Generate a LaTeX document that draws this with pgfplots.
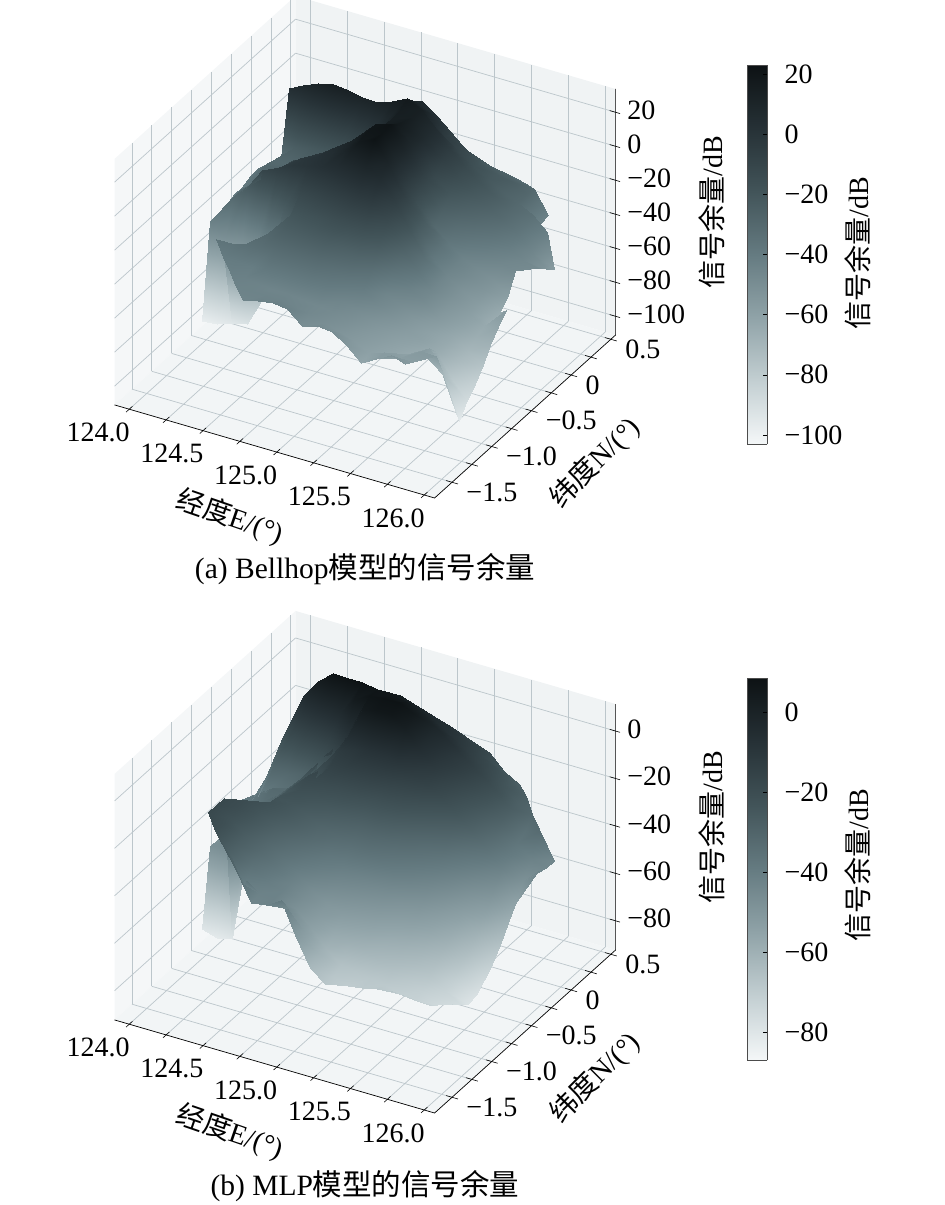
\documentclass[border=0pt]{standalone}
\usepackage{fontspec}
\setmainfont{Liberation Serif}
\newfontfamily\cjk{Noto Sans CJK SC}
\usepackage{pgfplots}
\pgfplotsset{compat=1.18}
\definecolor{wallL}{HTML}{F5F7F8}
\definecolor{wallB}{HTML}{F0F3F4}
\definecolor{wallF}{HTML}{F2F5F6}
\definecolor{gridc}{HTML}{BCC6CB}
\pgfplotsset{
  colormap={bonegrey}{rgb255(0cm)=(244,247,248); rgb255(1cm)=(195,207,210); rgb255(2cm)=(144,163,168);
    rgb255(3cm)=(101,123,129); rgb255(4cm)=(66,84,89); rgb255(5cm)=(38,49,54); rgb255(6cm)=(13,18,20)},
  box3d/.style={
    set layers, clip=false, grid=major, major grid style={gridc,line width=0.7pt},
    x={(147.5pt,-42.9pt)}, y={(79.4pt,71.5pt)},
    xmin=123.9, xmax=126.07, ymin=-1.72, ymax=0.56,
    xtick={124,124.25,...,126}, xticklabels={124.0,,124.5,,125.0,,125.5,,126.0},
    ytick={-1.5,-1.25,...,0.5}, yticklabels={−1.5,,−1.0,,−0.5,,0,,0.5},
    tick style={draw=none}, major tick length=6pt, tick align=center,
    axis line style={draw=none},
    xticklabel style={anchor=center,xshift=-29pt,yshift=-21pt},
    yticklabel style={anchor=west,xshift=8pt,yshift=-9pt},
    zticklabel style={anchor=west,xshift=6pt},
    ticklabel style={font=\fontsize{28}{30}\selectfont},
    zticklabel pos=right, ztick pos=right,
    xtick pos=left, ytick pos=left,
  },
  cbar/.style={
    scale only axis, width=20pt, xmin=0, xmax=1, xtick=\empty, view={0}{90},
    axis line style={black!70!white,line width=0.7pt},
    yticklabel pos=right, ytick pos=right, tick style={black,line width=0.6pt}, major tick length=4pt,
    yticklabel style={anchor=west,xshift=14pt,font=\fontsize{28}{30}\selectfont},
  },
  surfstyle/.style={surf, shader=interp, z buffer=sort, unbounded coords=jump, mesh/cols=20, forget plot},
  tickline/.style={on layer=axis lines,black,line width=0.6pt,unbounded coords=jump,forget plot},
}
\newcommand{\panes}[2]{%
  \addplot3[on layer=axis background,draw=none,fill=wallL,forget plot] coordinates {(123.9,-1.72,#1)(123.9,0.56,#1)(123.9,0.56,#2)(123.9,-1.72,#2)};
  \addplot3[on layer=axis background,draw=none,fill=wallB,forget plot] coordinates {(123.9,0.56,#1)(126.07,0.56,#1)(126.07,0.56,#2)(123.9,0.56,#2)};
  \addplot3[on layer=axis background,draw=none,fill=wallF,forget plot] coordinates {(123.9,-1.72,#1)(126.07,-1.72,#1)(126.07,0.56,#1)(123.9,0.56,#1)};
  \addplot3[on layer=axis lines,black,line width=0.7pt,forget plot] coordinates {(123.9,-1.72,#1)(126.07,-1.72,#1)(126.07,0.56,#1)(126.07,0.56,#2)};
  \addplot3[tickline] coordinates {(124,-1.76,#1)(124,-1.68,#1)(124,-1.7,nan)(124.25,-1.76,#1)(124.25,-1.68,#1)(124,-1.7,nan)(124.5,-1.76,#1)(124.5,-1.68,#1)(124,-1.7,nan)(124.75,-1.76,#1)(124.75,-1.68,#1)(124,-1.7,nan)(125,-1.76,#1)(125,-1.68,#1)(124,-1.7,nan)(125.25,-1.76,#1)(125.25,-1.68,#1)(124,-1.7,nan)(125.5,-1.76,#1)(125.5,-1.68,#1)(124,-1.7,nan)(125.75,-1.76,#1)(125.75,-1.68,#1)(124,-1.7,nan)(126,-1.76,#1)(126,-1.68,#1)};
  \addplot3[tickline] coordinates {(126.03,-1.5,#1)(126.11,-1.5,#1)(124,-1.7,nan)(126.03,-1.25,#1)(126.11,-1.25,#1)(124,-1.7,nan)(126.03,-1,#1)(126.11,-1,#1)(124,-1.7,nan)(126.03,-0.75,#1)(126.11,-0.75,#1)(124,-1.7,nan)(126.03,-0.5,#1)(126.11,-0.5,#1)(124,-1.7,nan)(126.03,-0.25,#1)(126.11,-0.25,#1)(124,-1.7,nan)(126.03,0,#1)(126.11,0,#1)(124,-1.7,nan)(126.03,0.25,#1)(126.11,0.25,#1)(124,-1.7,nan)(126.03,0.5,#1)(126.11,0.5,#1)};
}
\newcommand{\lab}{\fontsize{28}{30}\selectfont}
\begin{document}
\begin{tikzpicture}

% panel a
\begin{axis}[box3d, at={(114.5pt,-498pt)}, anchor=south west, z={(0pt,1.7pt)},
  zmin=-111, zmax=33.7, ztick={-100,-80,...,20}, zticklabels={−100,−80,−60,−40,−20,0,20},
  point meta min=-103, point meta max=23]
\panes{-111}{33.7}
\addplot3[tickline] coordinates {(126.03,0.56,-100)(126.1,0.56,-100)(124,-1.7,nan)(126.03,0.56,-80)(126.1,0.56,-80)(124,-1.7,nan)(126.03,0.56,-60)(126.1,0.56,-60)(124,-1.7,nan)(126.03,0.56,-40)(126.1,0.56,-40)(124,-1.7,nan)(126.03,0.56,-20)(126.1,0.56,-20)(124,-1.7,nan)(126.03,0.56,0)(126.1,0.56,0)(124,-1.7,nan)(126.03,0.56,20)(126.1,0.56,20)};
\addplot3[surfstyle] coordinates {
(124,0.5,nan)(124.1,0.5,nan)(124.2,0.5,nan)(124.3,0.5,nan)(124.4,0.5,nan)(124.5,0.5,nan)(124.6,0.5,nan)(124.7,0.5,nan)(124.8,0.5,nan)(124.9,0.5,nan)(125,0.5,nan)(125.1,0.5,nan)(125.4,0.5,-32)(125.4,0.5,-32)(125.4,0.5,-32)(125.5,0.5,-34)(125.5,0.5,-34)(125.5,0.5,-34)(125.8,0.5,nan)(125.9,0.5,nan)

(124,0.4,nan)(124.1,0.4,nan)(124.2,0.4,nan)(124.3,0.4,nan)(124.4,0.4,nan)(124.5,0.4,nan)(124.6,0.4,nan)(124.7,0.4,nan)(124.8,0.4,nan)(125.2,0.4,-23)(125.2,0.4,-23)(125.2,0.4,-23)(125.2,0.4,-23)(125.3,0.4,-24)(125.4,0.4,-26)(125.5,0.4,-28)(125.6,0.4,-30)(125.7,0.4,-43)(125.7,0.4,-43)(125.9,0.4,nan)

(124,0.3,nan)(124.1,0.3,nan)(124.2,0.3,nan)(124.3,0.3,nan)(124.4,0.3,nan)(124.5,0.3,nan)(124.6,0.3,nan)(124.7,0.3,nan)(124.9,0.3,8)(124.9,0.3,8)(125,0.3,2)(125.1,0.3,-7)(125.2,0.3,-13)(125.3,0.3,-19)(125.4,0.3,-22)(125.5,0.3,-24)(125.6,0.3,-29)(125.7,0.3,-44)(125.7,0.3,-44)(125.9,0.3,nan)

(124,0.2,nan)(124.1,0.2,nan)(124.2,0.2,nan)(124.3,0.2,nan)(124.4,0.2,nan)(124.5,0.2,nan)(124.6,0.2,nan)(124.8,0.2,7)(124.8,0.2,7)(124.9,0.2,12)(125,0.2,8)(125.1,0.2,-3)(125.2,0.2,-10)(125.3,0.2,-16)(125.4,0.2,-21)(125.5,0.2,-26)(125.6,0.2,-30)(125.7,0.2,-34)(125.8,0.2,-42)(125.8,0.2,-42)

(124.1,0.1,4)(124.1,0.1,4)(124.2,0.1,8)(124.3,0.1,12)(124.4,0.1,14)(124.5,0.1,13)(124.6,0.1,11)(124.7,0.1,11)(124.8,0.1,14)(124.9,0.1,18)(125,0.1,14)(125.1,0.1,5)(125.2,0.1,-5)(125.3,0.1,-13)(125.4,0.1,-19)(125.5,0.1,-24)(125.6,0.1,-30)(125.7,0.1,-36)(125.8,0.1,-44)(125.9,0.1,-57)

(124.1,0,-33)(124.1,0,-33)(124.2,0,-24)(124.3,0,-22)(124.4,0,-20)(124.5,0,-17)(124.6,0,-12)(124.7,0,-4)(124.8,0,6)(124.9,0,15)(125,0,14)(125.1,0,6)(125.2,0,-6)(125.3,0,-15)(125.4,0,-21)(125.5,0,-26)(125.6,0,-31)(125.7,0,-37)(125.8,0,-45)(125.9,0,-53)

(124,-0.1,-37)(124.1,-0.1,-30)(124.2,-0.1,-30)(124.3,-0.1,-26)(124.4,-0.1,-25)(124.5,-0.1,-24)(124.6,-0.1,-20)(124.7,-0.1,-10)(124.8,-0.1,3)(124.9,-0.1,14)(125,-0.1,16)(125.1,-0.1,8)(125.2,-0.1,-12)(125.3,-0.1,-20)(125.4,-0.1,-26)(125.5,-0.1,-31)(125.6,-0.1,-36)(125.7,-0.1,-41)(125.8,-0.1,-46)(125.9,-0.1,-48)

(124,-0.2,-38)(124.1,-0.2,-29)(124.2,-0.2,-28)(124.3,-0.2,-27)(124.4,-0.2,-26)(124.5,-0.2,-25)(124.6,-0.2,-22)(124.7,-0.2,-13)(124.8,-0.2,2)(124.9,-0.2,15)(125,-0.2,18)(125.1,-0.2,8)(125.2,-0.2,-10)(125.3,-0.2,-26)(125.4,-0.2,-32)(125.5,-0.2,-37)(125.6,-0.2,-42)(125.7,-0.2,-46)(125.8,-0.2,-48)(125.8,-0.2,-48)

(124,-0.3,-40)(124.1,-0.3,-32)(124.2,-0.3,-30)(124.3,-0.3,-28)(124.4,-0.3,-27)(124.5,-0.3,-26)(124.6,-0.3,-22)(124.7,-0.3,-12)(124.8,-0.3,5)(124.9,-0.3,20)(125,-0.3,22)(125.1,-0.3,10)(125.2,-0.3,-10)(125.3,-0.3,-30)(125.4,-0.3,-38)(125.5,-0.3,-44)(125.6,-0.3,-48)(125.7,-0.3,-52)(125.8,-0.3,-58)(125.8,-0.3,-58)

(124,-0.4,-40)(124.1,-0.4,-32)(124.2,-0.4,-26)(124.3,-0.4,-18)(124.4,-0.4,-10)(124.5,-0.4,-6)(124.6,-0.4,0)(124.7,-0.4,6)(124.8,-0.4,12)(124.9,-0.4,20)(125,-0.4,21)(125.1,-0.4,8)(125.2,-0.4,-10)(125.3,-0.4,-24)(125.4,-0.4,-36)(125.5,-0.4,-44)(125.6,-0.4,-49)(125.7,-0.4,-54)(125.8,-0.4,-64)(125.8,-0.4,-64)

(124,-0.5,-42)(124.1,-0.5,-30)(124.2,-0.5,-23)(124.3,-0.5,-16)(124.4,-0.5,-9)(124.5,-0.5,-2)(124.6,-0.5,1)(124.7,-0.5,4)(124.8,-0.5,10)(124.9,-0.5,18)(125,-0.5,22)(125.1,-0.5,10)(125.2,-0.5,-6)(125.3,-0.5,-22)(125.4,-0.5,-38)(125.5,-0.5,-46)(125.6,-0.5,-52)(125.7,-0.5,-57)(125.8,-0.5,-66)(125.9,-0.5,-56)

(124,-0.6,-44)(124.1,-0.6,-31)(124.2,-0.6,-22)(124.3,-0.6,-10)(124.4,-0.6,-6)(124.5,-0.6,-2)(124.6,-0.6,0)(124.7,-0.6,2)(124.8,-0.6,4)(124.9,-0.6,7)(125,-0.6,10)(125.1,-0.6,6)(125.2,-0.6,-6)(125.3,-0.6,-20)(125.4,-0.6,-34)(125.5,-0.6,-46)(125.6,-0.6,-52)(125.7,-0.6,-58)(125.8,-0.6,-64)(125.9,-0.6,-62)

(124,-0.7,-43)(124.1,-0.7,-50)(124.2,-0.7,-62)(124.3,-0.7,-55)(124.4,-0.7,-32)(124.5,-0.7,-22)(124.6,-0.7,-12)(124.7,-0.7,-10)(124.8,-0.7,-7)(124.9,-0.7,-5)(125,-0.7,-3)(125.1,-0.7,-4)(125.2,-0.7,-12)(125.3,-0.7,-26)(125.4,-0.7,-36)(125.5,-0.7,-46)(125.6,-0.7,-54)(125.7,-0.7,-60)(125.8,-0.7,-66)(125.9,-0.7,-68)

(124,-0.8,-98)(124.1,-0.8,-97)(124.2,-0.8,-94)(124.3,-0.8,-92)(124.4,-0.8,-76)(124.5,-0.8,-38)(124.6,-0.8,-20)(124.7,-0.8,-18)(124.8,-0.8,-17)(124.9,-0.8,-15)(125,-0.8,-14)(125.1,-0.8,-15)(125.2,-0.8,-22)(125.3,-0.8,-35)(125.4,-0.8,-43)(125.5,-0.8,-48)(125.6,-0.8,-56)(125.7,-0.8,-63)(125.8,-0.8,-70)(125.9,-0.8,-76)

(124,-0.9,nan)(124.1,-0.9,nan)(124.2,-0.9,-50)(124.3,-0.9,-48)(124.4,-0.9,-38)(124.5,-0.9,-29)(124.6,-0.9,-25)(124.7,-0.9,-24)(124.8,-0.9,-23)(124.9,-0.9,-23)(125,-0.9,-25)(125.1,-0.9,-28)(125.2,-0.9,-33)(125.3,-0.9,-45)(125.4,-0.9,-49)(125.5,-0.9,-55)(125.6,-0.9,-60)(125.7,-0.9,-64)(125.8,-0.9,-72)(125.9,-0.9,-83)

(124,-1,nan)(124.1,-1,nan)(124.2,-1,-36)(124.3,-1,-36)(124.4,-1,-34)(124.5,-1,-33)(124.6,-1,-31)(124.7,-1,-31)(124.8,-1,-31)(124.9,-1,-31)(125,-1,-34)(125.1,-1,-37)(125.2,-1,-41)(125.3,-1,-47)(125.4,-1,-52)(125.5,-1,-57)(125.6,-1,-60)(125.7,-1,-65)(125.8,-1,-78)(125.9,-1,-88)

(124,-1.1,nan)(124.1,-1.1,nan)(124.3,-1.1,-40)(124.3,-1.1,-40)(124.4,-1.1,-40)(124.5,-1.1,-41)(124.6,-1.1,-38)(124.7,-1.1,-38)(124.8,-1.1,-38)(124.9,-1.1,-38)(125,-1.1,-40)(125.1,-1.1,-45)(125.2,-1.1,-48)(125.3,-1.1,-52)(125.4,-1.1,-56)(125.5,-1.1,-60)(125.6,-1.1,-64)(125.7,-1.1,-58)(125.8,-1.1,-72)(125.9,-1.1,-96)

(124,-1.2,nan)(124.1,-1.2,nan)(124.2,-1.2,nan)(124.4,-1.2,-42)(124.4,-1.2,-42)(124.5,-1.2,-43)(124.6,-1.2,-44)(124.7,-1.2,-45)(124.8,-1.2,-45)(124.9,-1.2,-46)(125,-1.2,-47)(125.1,-1.2,-48)(125.2,-1.2,-51)(125.3,-1.2,-55)(125.4,-1.2,-58)(125.5,-1.2,-62)(125.6,-1.2,-60)(125.7,-1.2,-56)(125.8,-1.2,-56)(125.9,-1.2,-79)

(124,-1.3,nan)(124.1,-1.3,nan)(124.2,-1.3,nan)(124.3,-1.3,nan)(124.5,-1.3,-44)(124.5,-1.3,-44)(124.6,-1.3,-44)(124.7,-1.3,-44)(124.8,-1.3,-44)(124.9,-1.3,-45)(125,-1.3,-47)(125.1,-1.3,-50)(125.2,-1.3,-53)(125.3,-1.3,-56)(125.4,-1.3,-60)(125.5,-1.3,-57)(125.6,-1.3,-58)(125.7,-1.3,-58)(125.7,-1.3,-58)(125.9,-1.3,nan)

(124,-1.4,nan)(124.1,-1.4,nan)(124.2,-1.4,nan)(124.3,-1.4,nan)(124.4,-1.4,nan)(124.6,-1.4,-45)(124.6,-1.4,-45)(124.7,-1.4,-43)(124.8,-1.4,-42)(124.9,-1.4,-43)(125,-1.4,-50)(125.1,-1.4,-48)(125.2,-1.4,-49)(125.3,-1.4,-54)(125.4,-1.4,-62)(125.5,-1.4,-57)(125.6,-1.4,-52)(125.7,-1.4,-55)(125.8,-1.4,nan)(125.9,-1.4,nan)
};
\end{axis}

\begin{axis}[cbar, at={(747pt,-444pt)}, anchor=south west, height=379pt, ymin=-103, ymax=23,
  ytick={-100,-80,...,20}, yticklabels={−100,−80,−60,−40,−20,0,20}, point meta min=-103, point meta max=23]
\addplot3[surf,shader=interp,mesh/cols=2] coordinates {(0,-103,-103)(1,-103,-103)(0,23,23)(1,23,23)};
\end{axis}

% panel b
\begin{axis}[box3d, at={(114.5pt,-1113pt)}, anchor=south west, z={(0pt,2.372pt)},
  zmin=-92.3, zmax=11.4, ztick={-80,-60,...,0}, zticklabels={−80,−60,−40,−20,0},
  point meta min=-87, point meta max=8.5]
\panes{-92.3}{11.4}
\addplot3[tickline] coordinates {(126.03,0.56,-80)(126.1,0.56,-80)(124,-1.7,nan)(126.03,0.56,-60)(126.1,0.56,-60)(124,-1.7,nan)(126.03,0.56,-40)(126.1,0.56,-40)(124,-1.7,nan)(126.03,0.56,-20)(126.1,0.56,-20)(124,-1.7,nan)(126.03,0.56,0)(126.1,0.56,0)};
\addplot3[surfstyle] coordinates {
(124,0.4,nan)(124.1,0.4,nan)(124.2,0.4,nan)(124.3,0.4,nan)(124.4,0.4,nan)(124.5,0.4,nan)(124.6,0.4,nan)(124.7,0.4,nan)(124.8,0.4,nan)(124.9,0.4,nan)(125.2,0.4,-16)(125.2,0.4,-16)(125.2,0.4,-16)(125.3,0.4,-18)(125.4,0.4,-24)(125.5,0.4,-28)(125.5,0.4,-28)(125.7,0.4,nan)(125.8,0.4,nan)(125.9,0.4,nan)

(124,0.3,nan)(124.1,0.3,nan)(124.2,0.3,nan)(124.3,0.3,nan)(124.4,0.3,nan)(124.5,0.3,nan)(124.6,0.3,nan)(124.7,0.3,nan)(125,0.3,-6)(125,0.3,-6)(125,0.3,-6)(125.1,0.3,-8)(125.2,0.3,-12)(125.3,0.3,-16)(125.4,0.3,-20)(125.5,0.3,-25)(125.6,0.3,-28)(125.6,0.3,-28)(125.8,0.3,nan)(125.9,0.3,nan)

(124,0.2,nan)(124.1,0.2,nan)(124.2,0.2,nan)(124.3,0.2,nan)(124.4,0.2,nan)(124.5,0.2,nan)(124.6,0.2,nan)(124.8,0.2,3)(124.8,0.2,3)(124.9,0.2,1)(125,0.2,-2)(125.1,0.2,-6)(125.2,0.2,-10)(125.3,0.2,-14)(125.4,0.2,-18)(125.5,0.2,-23)(125.6,0.2,-28)(125.7,0.2,-31)(125.7,0.2,-31)(125.7,0.2,-31)

(124,0.1,nan)(124.2,0.1,-5)(124.2,0.1,-5)(124.3,0.1,3)(124.4,0.1,8)(124.5,0.1,8)(124.6,0.1,8)(124.7,0.1,7)(124.8,0.1,6)(124.9,0.1,5)(125,0.1,2)(125.1,0.1,-2)(125.2,0.1,-7)(125.3,0.1,-12)(125.4,0.1,-16)(125.5,0.1,-21)(125.6,0.1,-27)(125.7,0.1,-35)(125.8,0.1,-33)(125.9,0.1,-44)

(124.1,0,-23)(124.1,0,-23)(124.2,0,-15)(124.3,0,-12)(124.4,0,-8)(124.5,0,-4)(124.6,0,4)(124.7,0,7)(124.8,0,8)(124.9,0,8)(125,0,5)(125.1,0,-4)(125.2,0,-9)(125.3,0,-13)(125.4,0,-18)(125.5,0,-23)(125.6,0,-29)(125.7,0,-37)(125.8,0,-42)(125.9,0,-44)

(124,-0.1,-45)(124.1,-0.1,-30)(124.2,-0.1,-32)(124.3,-0.1,-30)(124.4,-0.1,-26)(124.5,-0.1,-18)(124.6,-0.1,-9)(124.7,-0.1,4)(124.8,-0.1,6)(124.9,-0.1,6)(125,-0.1,2)(125.1,-0.1,-6)(125.2,-0.1,-11)(125.3,-0.1,-16)(125.4,-0.1,-21)(125.5,-0.1,-26)(125.6,-0.1,-32)(125.7,-0.1,-39)(125.8,-0.1,-48)(125.9,-0.1,-42)

(124,-0.2,-45)(124.1,-0.2,-38)(124.2,-0.2,-36)(124.3,-0.2,-33)(124.4,-0.2,-26)(124.5,-0.2,-16)(124.6,-0.2,-12)(124.7,-0.2,-10)(124.8,-0.2,-8)(124.9,-0.2,-8)(125,-0.2,-9)(125.1,-0.2,-12)(125.2,-0.2,-15)(125.3,-0.2,-19)(125.4,-0.2,-24)(125.5,-0.2,-29)(125.6,-0.2,-35)(125.7,-0.2,-42)(125.8,-0.2,-55)(125.8,-0.2,-55)

(124,-0.3,-40)(124.1,-0.3,-36)(124.2,-0.3,-32)(124.3,-0.3,-32)(124.4,-0.3,-24)(124.5,-0.3,-22)(124.6,-0.3,-15)(124.7,-0.3,-14)(124.8,-0.3,-14)(124.9,-0.3,-15)(125,-0.3,-17)(125.1,-0.3,-19)(125.2,-0.3,-22)(125.3,-0.3,-26)(125.4,-0.3,-30)(125.5,-0.3,-36)(125.6,-0.3,-42)(125.7,-0.3,-48)(125.8,-0.3,-60)(125.9,-0.3,nan)

(124,-0.4,-42)(124.1,-0.4,-38)(124.2,-0.4,-34)(124.3,-0.4,-30)(124.4,-0.4,-24)(124.5,-0.4,-18)(124.6,-0.4,-19)(124.7,-0.4,-20)(124.8,-0.4,-21)(124.9,-0.4,-23)(125,-0.4,-24)(125.1,-0.4,-26)(125.2,-0.4,-29)(125.3,-0.4,-33)(125.4,-0.4,-37)(125.5,-0.4,-42)(125.6,-0.4,-48)(125.7,-0.4,-54)(125.8,-0.4,-66)(125.9,-0.4,nan)

(124,-0.5,-45)(124.1,-0.5,-40)(124.2,-0.5,-36)(124.3,-0.5,-30)(124.4,-0.5,-24)(124.5,-0.5,-21)(124.6,-0.5,-23)(124.7,-0.5,-25)(124.8,-0.5,-27)(124.9,-0.5,-29)(125,-0.5,-30)(125.1,-0.5,-32)(125.2,-0.5,-35)(125.3,-0.5,-38)(125.4,-0.5,-42)(125.5,-0.5,-47)(125.6,-0.5,-53)(125.7,-0.5,-60)(125.8,-0.5,-71)(125.9,-0.5,nan)

(124,-0.6,-48)(124.1,-0.6,-44)(124.2,-0.6,-38)(124.3,-0.6,-30)(124.4,-0.6,-23)(124.5,-0.6,-24)(124.6,-0.6,-27)(124.7,-0.6,-30)(124.8,-0.6,-32)(124.9,-0.6,-34)(125,-0.6,-35)(125.1,-0.6,-37)(125.2,-0.6,-40)(125.3,-0.6,-43)(125.4,-0.6,-47)(125.5,-0.6,-52)(125.6,-0.6,-57)(125.7,-0.6,-64)(125.8,-0.6,-75)(125.9,-0.6,nan)

(124,-0.7,-48)(124.1,-0.7,-46)(124.2,-0.7,-40)(124.3,-0.7,-28)(124.4,-0.7,-22)(124.5,-0.7,-25)(124.6,-0.7,-29)(124.7,-0.7,-33)(124.8,-0.7,-37)(124.9,-0.7,-40)(125,-0.7,-42)(125.1,-0.7,-44)(125.2,-0.7,-46)(125.3,-0.7,-49)(125.4,-0.7,-52)(125.5,-0.7,-56)(125.6,-0.7,-60)(125.7,-0.7,-67)(125.8,-0.7,-78)(125.9,-0.7,nan)

(124,-0.8,-80)(124.1,-0.8,-82)(124.2,-0.8,-80)(124.3,-0.8,-20)(124.4,-0.8,-24)(124.5,-0.8,-28)(124.6,-0.8,-33)(124.7,-0.8,-37)(124.8,-0.8,-41)(124.9,-0.8,-45)(125,-0.8,-47)(125.1,-0.8,-49)(125.2,-0.8,-51)(125.3,-0.8,-54)(125.4,-0.8,-57)(125.5,-0.8,-60)(125.6,-0.8,-64)(125.7,-0.8,-71)(125.8,-0.8,-79)(125.9,-0.8,nan)

(124,-0.9,nan)(124.1,-0.9,nan)(124.2,-0.9,-18)(124.3,-0.9,-20)(124.4,-0.9,-25)(124.5,-0.9,-31)(124.6,-0.9,-36)(124.7,-0.9,-41)(124.8,-0.9,-46)(124.9,-0.9,-50)(125,-0.9,-52)(125.1,-0.9,-54)(125.2,-0.9,-56)(125.3,-0.9,-59)(125.4,-0.9,-61)(125.5,-0.9,-64)(125.6,-0.9,-67)(125.7,-0.9,-72)(125.8,-0.9,-76)(125.9,-0.9,nan)

(124,-1,nan)(124.1,-1,nan)(124.2,-1,-18)(124.3,-1,-22)(124.4,-1,-27)(124.5,-1,-32)(124.6,-1,-37)(124.7,-1,-42)(124.8,-1,-47)(124.9,-1,-52)(125,-1,-57)(125.1,-1,-59)(125.2,-1,-61)(125.3,-1,-63)(125.4,-1,-65)(125.5,-1,-68)(125.6,-1,-71)(125.7,-1,-75)(125.8,-1,-73)(125.9,-1,nan)

(124,-1.1,nan)(124.1,-1.1,nan)(124.2,-1.1,-18)(124.3,-1.1,-21)(124.4,-1.1,-28)(124.5,-1.1,-35)(124.6,-1.1,-40)(124.7,-1.1,-42)(124.8,-1.1,-48)(124.9,-1.1,-54)(125,-1.1,-61)(125.1,-1.1,-66)(125.2,-1.1,-67)(125.3,-1.1,-68)(125.4,-1.1,-69)(125.5,-1.1,-71)(125.6,-1.1,-72)(125.7,-1.1,-72)(125.7,-1.1,-72)(125.9,-1.1,nan)

(124,-1.2,nan)(124.1,-1.2,nan)(124.3,-1.2,-21)(124.3,-1.2,-21)(124.4,-1.2,-29)(124.5,-1.2,-40)(124.6,-1.2,-42)(124.7,-1.2,-42)(124.8,-1.2,-45)(124.9,-1.2,-52)(125,-1.2,-60)(125.1,-1.2,-68)(125.2,-1.2,-70)(125.3,-1.2,-69)(125.4,-1.2,-68)(125.5,-1.2,-67)(125.5,-1.2,-67)(125.5,-1.2,-67)(125.8,-1.2,nan)(125.9,-1.2,nan)

(124,-1.3,nan)(124.1,-1.3,nan)(124.2,-1.3,nan)(124.5,-1.3,-31)(124.5,-1.3,-31)(124.5,-1.3,-31)(124.6,-1.3,-43)(124.7,-1.3,-42)(124.8,-1.3,-38)(124.9,-1.3,-51)(125,-1.3,-63)(125.1,-1.3,-68)(125.1,-1.3,-68)(125.3,-1.3,nan)(125.4,-1.3,nan)(125.5,-1.3,nan)(125.6,-1.3,nan)(125.7,-1.3,nan)(125.8,-1.3,nan)(125.9,-1.3,nan)
};
\end{axis}

\begin{axis}[cbar, at={(747pt,-1060pt)}, anchor=south west, height=382pt, ymin=-87, ymax=8.5,
  ytick={-80,-60,...,0}, yticklabels={−80,−60,−40,−20,0}, point meta min=-87, point meta max=8.5]
\addplot3[surf,shader=interp,mesh/cols=2] coordinates {(0,-87,-87)(1,-87,-87)(0,8.5,8.5)(1,8.5,8.5)};
\end{axis}

% labels
\foreach \dy/\cy in {0/253, 615/865} {
  \node[rotate=-19] at (230pt,{-(517+\dy)*1pt}) {\lab{\cjk 经度}E/(°)};
  \node[rotate=45] at (595pt,{-(463+\dy)*1pt}) {\lab{\cjk 纬度}N/(°)};
  \node[rotate=90] at (712pt,{-(212+\dy)*1pt}) {\lab{\cjk 信号余量}/dB};
  \node[rotate=90] at (858pt,{-\cy*1pt}) {\lab{\cjk 信号余量}/dB};
}
\node at (365pt,-569pt) {\fontsize{29.5}{31}\selectfont (a) Bellhop{\cjk 模型的信号余量}};
\node at (365pt,-1186pt) {\fontsize{29.5}{31}\selectfont (b) MLP{\cjk 模型的信号余量}};
\pgfresetboundingbox
\path[use as bounding box] (0,0) rectangle (945pt,-1205pt);
\end{tikzpicture}
\end{document}
